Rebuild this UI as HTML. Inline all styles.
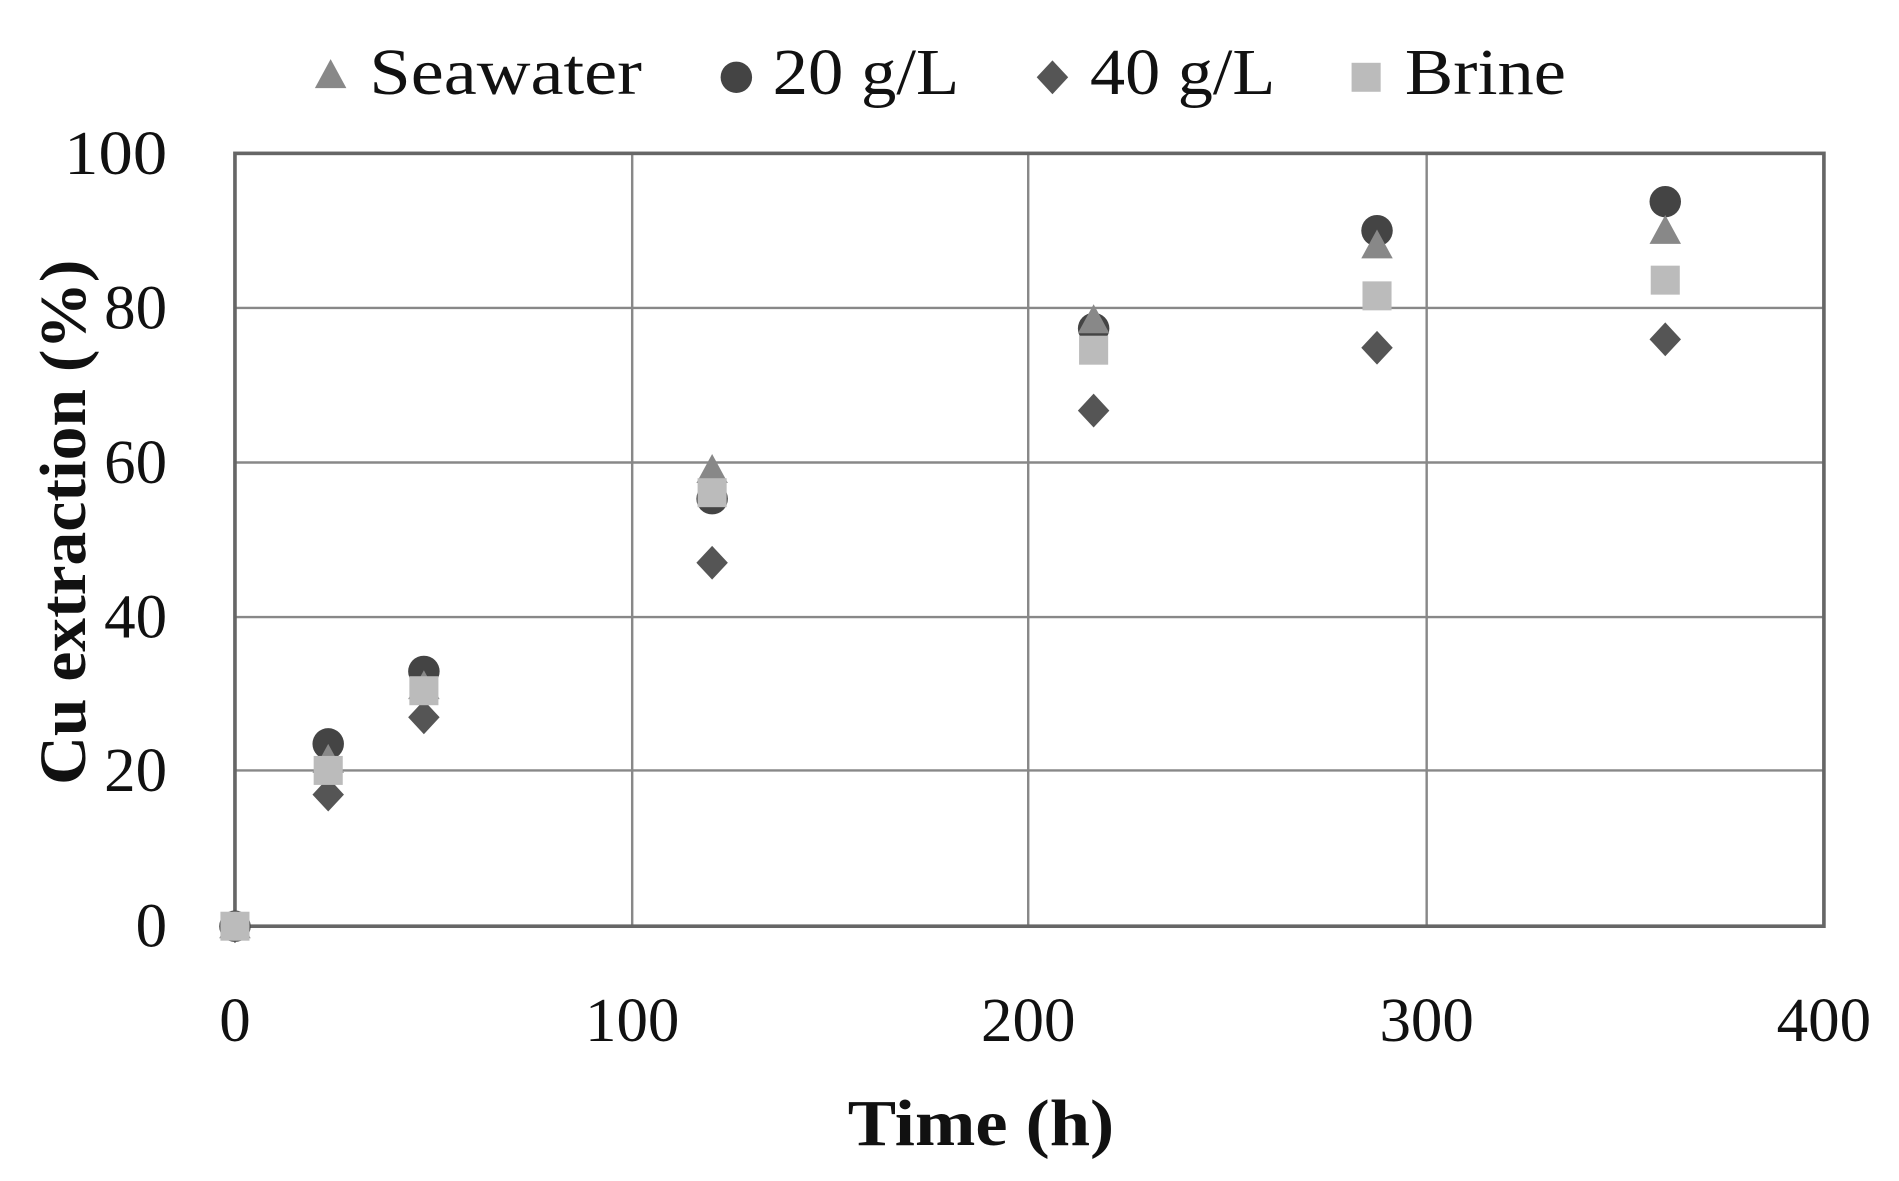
<!DOCTYPE html>
<html><head><style>html,body{margin:0;padding:0;background:#fff}svg{display:block}</style></head><body>
<svg width="1899" height="1181" viewBox="0 0 1568 978" preserveAspectRatio="none" xmlns="http://www.w3.org/2000/svg" font-family="Liberation Serif, serif">
<defs>
<path id="tri" d="M0,-14 L13,10 L-13,10 Z" fill="#888"/>
<circle id="cir" r="13" fill="#444"/>
<path id="dia" d="M0,-14 L13,0 L0,14 L-13,0 Z" fill="#555"/>
<rect id="sq" x="-12" y="-12" width="24" height="24" fill="#bbb"/>
</defs>
<g stroke="#888" stroke-width="2">
<line x1="194" y1="255" x2="1506" y2="255"/>
<line x1="194" y1="383" x2="1506" y2="383"/>
<line x1="194" y1="511" x2="1506" y2="511"/>
<line x1="194" y1="638" x2="1506" y2="638"/>
<line x1="522" y1="127" x2="522" y2="767"/>
<line x1="849" y1="127" x2="849" y2="767"/>
<line x1="1178" y1="127" x2="1178" y2="767"/>
</g>
<rect x="194" y="127" width="1312" height="640" fill="none" stroke="#666" stroke-width="3"/>
<g font-size="52" fill="#111" text-anchor="end">
<text x="138" y="144" textLength="85" lengthAdjust="spacingAndGlyphs">100</text><text x="138" y="272">80</text><text x="138" y="400">60</text>
<text x="138" y="528">40</text><text x="138" y="655">20</text><text x="138" y="784">0</text>
</g>
<g font-size="52" fill="#111" text-anchor="middle">
<text x="194" y="862">0</text><text x="522" y="862">100</text><text x="849" y="862">200</text>
<text x="1178" y="862">300</text><text x="1506" y="862">400</text>
</g>
<text x="700" y="948" font-size="54" font-weight="bold" fill="#111" textLength="220" lengthAdjust="spacingAndGlyphs">Time (h)</text>
<text transform="translate(70,650) rotate(-90)" font-size="54" font-weight="bold" fill="#111" textLength="435" lengthAdjust="spacingAndGlyphs">Cu extraction (%)</text>
<g font-size="54" fill="#111">
<use href="#tri" x="273" y="63"/><text x="305" y="78" textLength="225" lengthAdjust="spacingAndGlyphs">Seawater</text>
<use href="#cir" x="608" y="64"/><text x="638" y="78" textLength="154" lengthAdjust="spacingAndGlyphs">20 g/L</text>
<use href="#dia" x="869" y="64"/><text x="900" y="78" textLength="153" lengthAdjust="spacingAndGlyphs">40 g/L</text>
<use href="#sq" x="1128" y="64"/><text x="1160" y="78" textLength="133" lengthAdjust="spacingAndGlyphs">Brine</text>
</g>
<g>
<use href="#cir" x="194" y="767"/><use href="#cir" x="271" y="616"/><use href="#cir" x="350" y="556"/><use href="#cir" x="588" y="413"/><use href="#cir" x="903" y="272"/><use href="#cir" x="1137" y="191"/><use href="#cir" x="1375" y="167"/>
<use href="#tri" x="194" y="767"/><use href="#tri" x="271" y="630"/><use href="#tri" x="350" y="569"/><use href="#tri" x="588" y="390"/><use href="#tri" x="903" y="266"/><use href="#tri" x="1137" y="204"/><use href="#tri" x="1375" y="192"/>
<use href="#dia" x="194" y="767"/><use href="#dia" x="271" y="658"/><use href="#dia" x="350" y="594"/><use href="#dia" x="588" y="466"/><use href="#dia" x="903" y="340"/><use href="#dia" x="1137" y="288"/><use href="#dia" x="1375" y="281"/>
<use href="#sq" x="194" y="767"/><use href="#sq" x="271" y="638"/><use href="#sq" x="350" y="572"/><use href="#sq" x="588" y="408"/><use href="#sq" x="903" y="290"/><use href="#sq" x="1137" y="245"/><use href="#sq" x="1375" y="232"/>
</g>
</svg>
</body></html>
